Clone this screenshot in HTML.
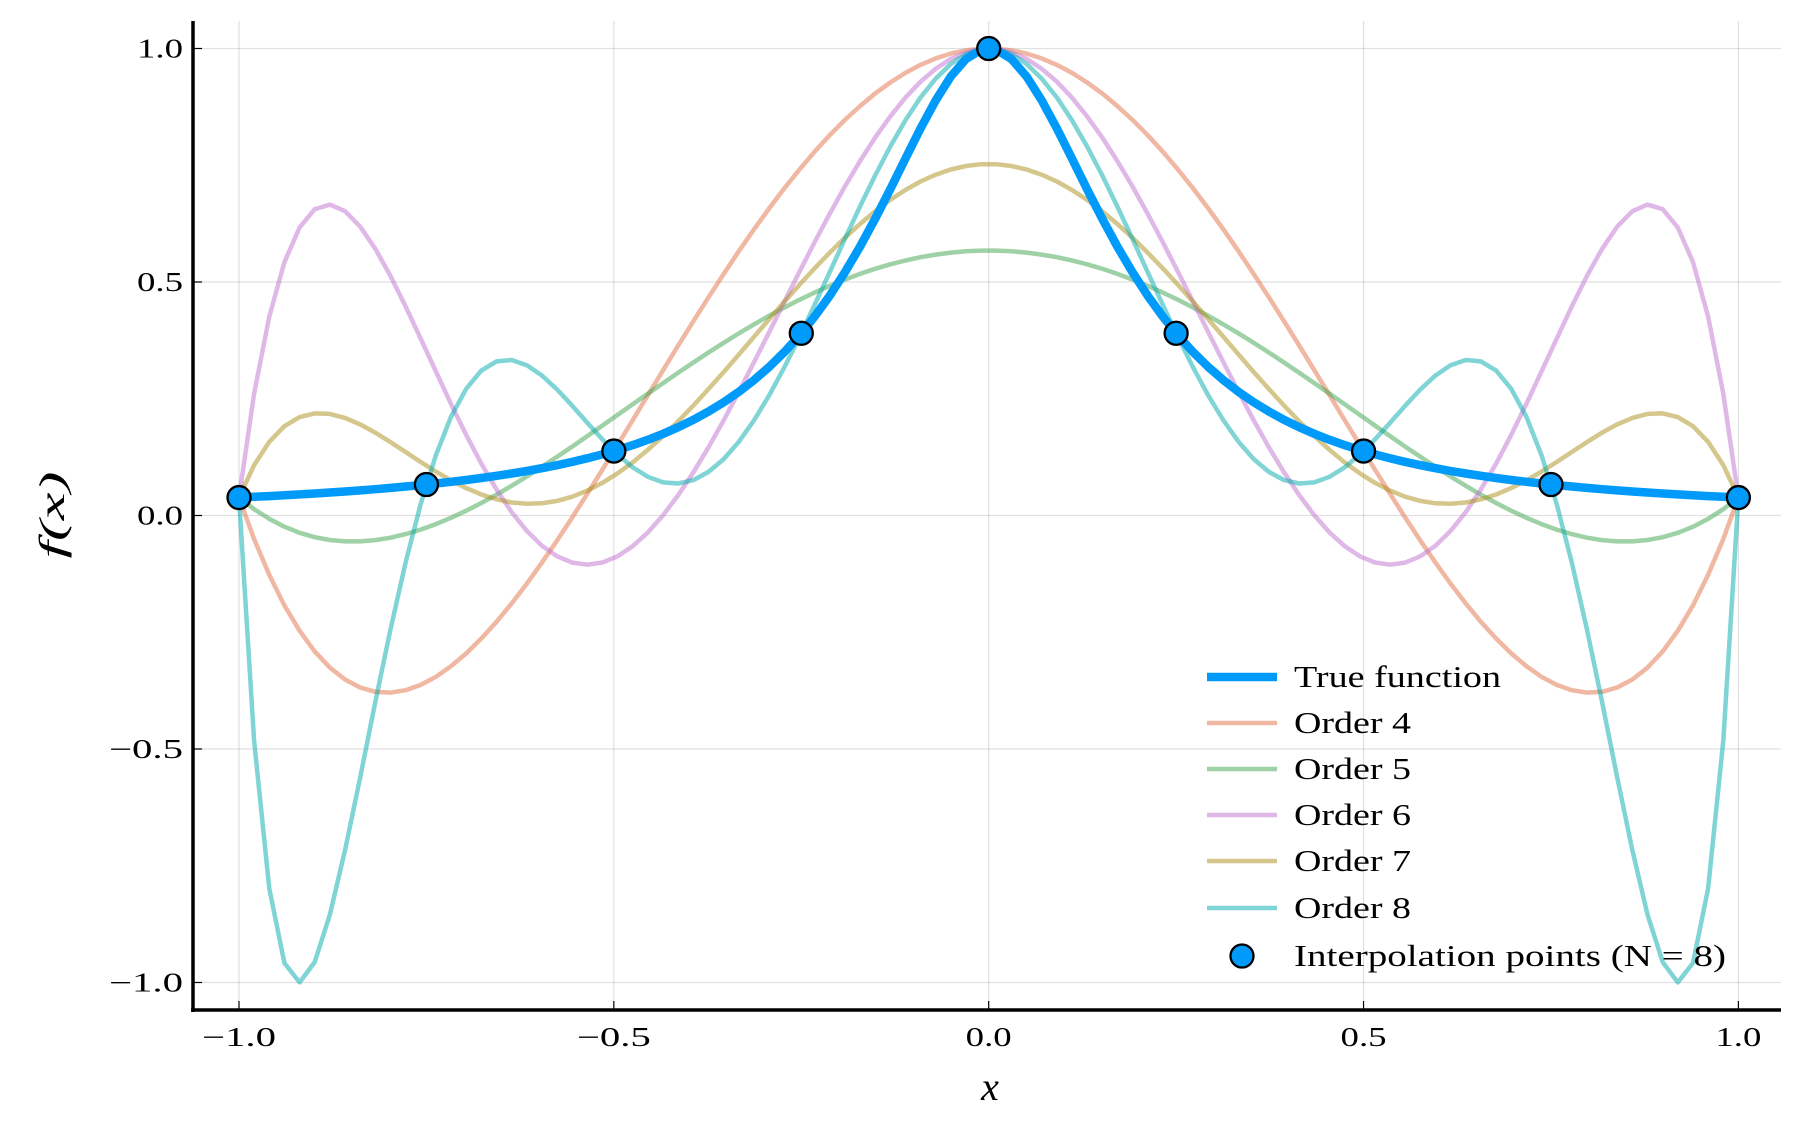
<!DOCTYPE html>
<html><head><meta charset="utf-8"><style>
html,body{margin:0;padding:0;background:#fff}
svg{display:block;font-family:"Liberation Serif","DejaVu Serif",serif}
</style></head><body>
<svg id="s" width="1803" height="1129" viewBox="0 0 1803 1129" xmlns="http://www.w3.org/2000/svg">
<g id="grid" stroke="#000" stroke-opacity="0.12" stroke-width="1.2"></g>
<g id="curves" fill="none" stroke-linejoin="round"></g>
<g id="axes"></g>
<g id="labels" font-size="27" fill="#000"></g>
<text x="990" y="1100" font-size="40" font-style="italic" text-anchor="middle">x</text>
<text transform="translate(64,515) rotate(-90)" font-size="36" font-style="italic" text-anchor="middle" textLength="87" lengthAdjust="spacingAndGlyphs">f(x)</text>
<g id="legend" font-size="31"></g>
</svg>
<script>
var NS="http://www.w3.org/2000/svg";
function el(p,t,a,txt){var e=document.createElementNS(NS,t);for(var k in a)e.setAttribute(k,a[k]);if(txt!==undefined)e.textContent=txt;document.getElementById(p).appendChild(e);return e;}
var X0=988.7,SX=749.7,Y0=515.5,SY=934;
function px(x){return X0+x*SX;} function py(y){return Y0-y*SY/2;}
var L=193,R=1781,T=21,B=1010;
[-1,-0.5,0,0.5,1].forEach(function(v){el("grid","line",{x1:px(v),x2:px(v),y1:T,y2:B});
 el("grid","line",{x1:L,x2:R,y1:py(v),y2:py(v)});
 el("axes","line",{x1:px(v),x2:px(v),y1:B,y2:B-9,stroke:"#000","stroke-width":1.2});
 el("axes","line",{x1:L,x2:L+9,y1:py(v),y2:py(v),stroke:"#000","stroke-width":1.2});
 var s=(v<0?"\u2212":"")+Math.abs(v).toFixed(1);
 var tl=v<0?74:46;
 el("labels","text",{x:px(v),y:B+36,"text-anchor":"middle",textLength:tl,lengthAdjust:"spacingAndGlyphs"},s);
 el("labels","text",{x:L-10-tl,y:py(v)+9,textLength:tl,lengthAdjust:"spacingAndGlyphs"},s);
});
el("axes","line",{x1:L,x2:L,y1:T,y2:B+2,stroke:"#000","stroke-width":3.5});
el("axes","line",{x1:L-2,x2:R,y1:B,y2:B,stroke:"#000","stroke-width":3.5});
function f(x){return 1/(1+25*x*x);}
function interp(k,x){var n=[];for(var i=0;i<=k;i++)n.push(-1+2*i/k);var s=0;
 for(var i=0;i<=k;i++){var l=1;for(var j=0;j<=k;j++)if(j!=i)l*=(x-n[j])/(n[i]-n[j]);s+=l*f(n[i]);}return s;}
var cols={4:"#E26F46",5:"#3DA44D",6:"#C271D2",7:"#AC8E18",8:"#00A9AD"};
var N=100;
function path(fn){var d="";for(var i=0;i<N;i++){var x=-1+2*i/(N-1);d+=(i?"L":"M")+px(x).toFixed(1)+","+py(fn(x)).toFixed(1);}return d;}
[4,5,6,7,8].forEach(function(k){el("curves","path",{d:path(function(x){return interp(k,x);}),stroke:cols[k],"stroke-opacity":0.5,"stroke-width":4.5});});
el("curves","path",{d:path(f),stroke:"#009AFA","stroke-width":8.5});
for(var i=0;i<=8;i++){var x=-1+i/4;el("curves","circle",{cx:px(x),cy:py(f(x)),r:11.5,fill:"#009AFA",stroke:"#000","stroke-width":2.3});}
var items=[["True function","#009AFA",1,8.5,207],["Order 4",cols[4],.5,4.5,117],["Order 5",cols[5],.5,4.5,117],["Order 6",cols[6],.5,4.5,117],["Order 7",cols[7],.5,4.5,117],["Order 8",cols[8],.5,4.5,117]];
var ys=[677,723,769,815,861,908,956];
items.forEach(function(it,i){el("legend","line",{x1:1207,x2:1277,y1:ys[i],y2:ys[i],stroke:it[1],"stroke-opacity":it[2],"stroke-width":it[3]});
 el("legend","text",{x:1294,y:ys[i]+10,textLength:it[4],lengthAdjust:"spacingAndGlyphs"},it[0]);});
el("legend","circle",{cx:1242,cy:ys[6],r:11.5,fill:"#009AFA",stroke:"#000","stroke-width":2.3});
el("legend","text",{x:1294,y:ys[6]+10,textLength:432,lengthAdjust:"spacingAndGlyphs"},"Interpolation points (N = 8)");
</script>
</body></html>
